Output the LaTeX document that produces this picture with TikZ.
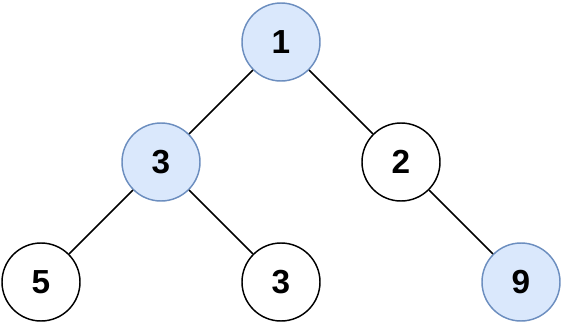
\documentclass[tikz,border=0pt]{standalone}
\usepackage{fontspec}
\setmainfont{Liberation Sans}
\definecolor{bluefill}{HTML}{DAE8FC}
\definecolor{bluestroke}{HTML}{6C8EBF}
\begin{document}
\begin{tikzpicture}[x=0.75pt,y=-0.75pt,
  treenode/.style={circle,draw=black,fill=white,line width=1.1pt,minimum size=58.5pt,inner sep=0pt,font=\fontsize{25}{30}\selectfont\bfseries},
  hinode/.style={treenode,draw=bluestroke,fill=bluefill},
  edge/.style={line width=1.1pt,draw=black}]
\useasboundingbox (0,0) rectangle (562,322);
\node[hinode] (n1) at (281,42) {1};
\node[hinode] (n3) at (161,162) {3};
\node[treenode] (n2) at (401,162) {2};
\node[treenode] (n5) at (41,282) {5};
\node[treenode] (n3b) at (281,282) {3};
\node[hinode] (n9) at (521,282) {9};
\draw[edge] (n1) -- (n3);
\draw[edge] (n1) -- (n2);
\draw[edge] (n3) -- (n5);
\draw[edge] (n3) -- (n3b);
\draw[edge] (n2) -- (n9);
\end{tikzpicture}
\end{document}
